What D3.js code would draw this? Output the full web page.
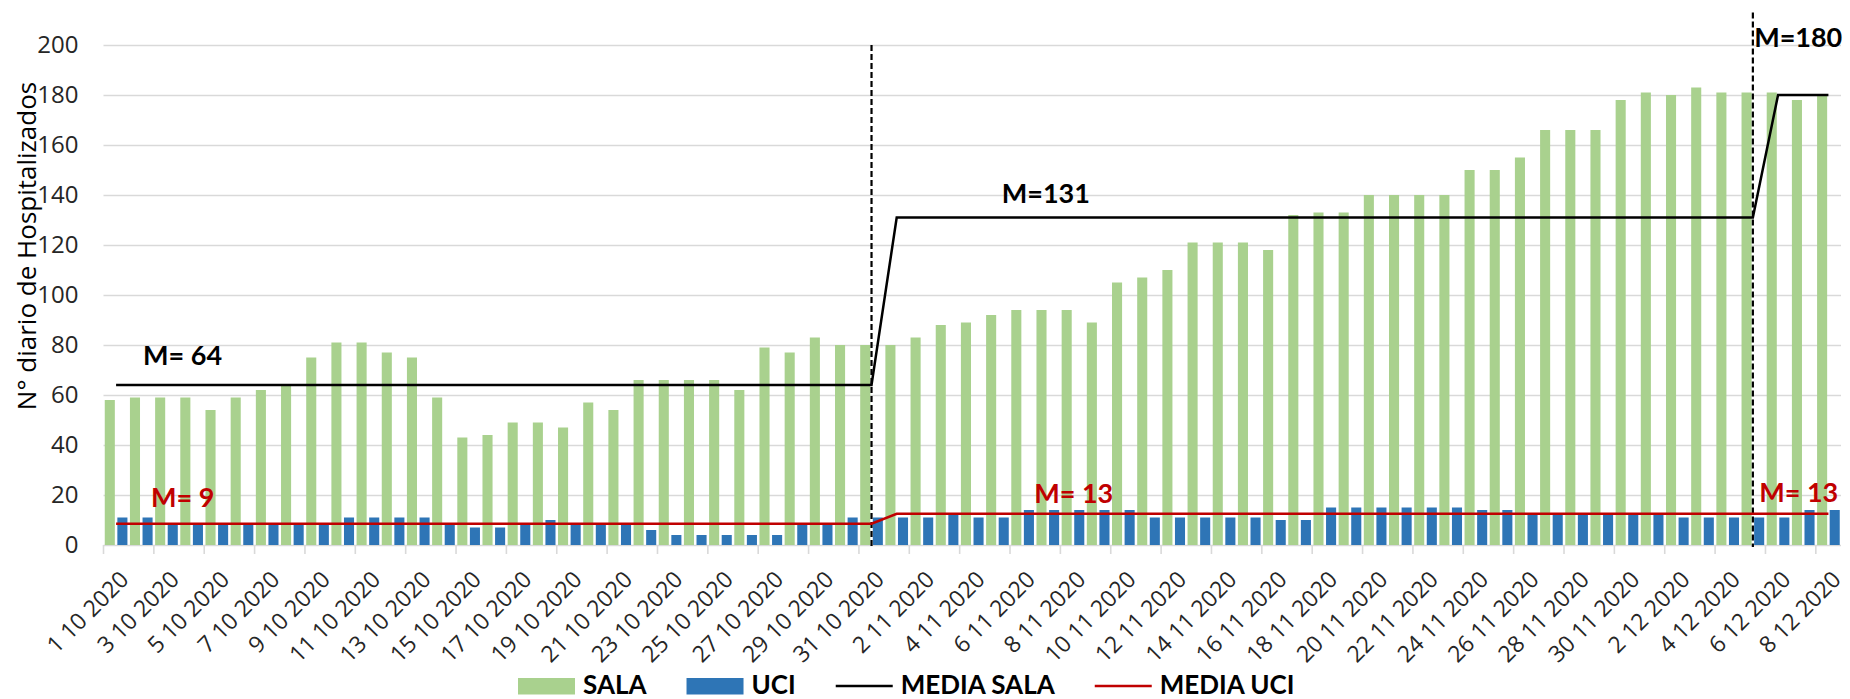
<!DOCTYPE html>
<html>
<head>
<meta charset="utf-8">
<script src="https://cdn.jsdelivr.net/npm/d3@7"></script>
<style>
  body { margin: 0; background: #fff; }
  text { font-family: 'Open Sans', Lato, sans-serif; }
</style>
</head>
<body>
<div id="chart"></div>
<script>
// categories (one per day)
const categories = [
    '1 10 2020', '2 10 2020', '3 10 2020', '4 10 2020', '5 10 2020', '6 10 2020', '7 10 2020', '8 10 2020',
    '9 10 2020', '10 10 2020', '11 10 2020', '12 10 2020', '13 10 2020', '14 10 2020', '15 10 2020', '16 10 2020',
    '17 10 2020', '18 10 2020', '19 10 2020', '20 10 2020', '21 10 2020', '22 10 2020', '23 10 2020', '24 10 2020',
    '25 10 2020', '26 10 2020', '27 10 2020', '28 10 2020', '29 10 2020', '30 10 2020', '31 10 2020',
    '1 11 2020', '2 11 2020', '3 11 2020', '4 11 2020', '5 11 2020', '6 11 2020', '7 11 2020', '8 11 2020',
    '9 11 2020', '10 11 2020', '11 11 2020', '12 11 2020', '13 11 2020', '14 11 2020', '15 11 2020', '16 11 2020',
    '17 11 2020', '18 11 2020', '19 11 2020', '20 11 2020', '21 11 2020', '22 11 2020', '23 11 2020', '24 11 2020',
    '25 11 2020', '26 11 2020', '27 11 2020', '28 11 2020', '29 11 2020', '30 11 2020',
    '1 12 2020', '2 12 2020', '3 12 2020', '4 12 2020', '5 12 2020', '6 12 2020', '7 12 2020', '8 12 2020'
];

const sala = [
    58, 59, 59, 59, 54, 59, 62, 64, 75, 81, 81, 77, 75, 59, 43, 44,
    49, 49, 47, 57, 54, 66, 66, 66, 66, 62, 79, 77, 83, 80, 80,
    80, 83, 88, 89, 92, 94, 94, 94, 89, 105, 107, 110, 121, 121, 121,
    118, 132, 133, 133, 140, 140, 140, 140, 150, 150, 155, 166, 166, 166, 178,
    181, 180, 183, 181, 181, 181, 178, 180
];

const uci = [
    11, 11, 8, 8, 8, 8, 8, 8, 8, 11, 11, 11, 11, 8, 7, 7,
    8, 10, 8, 8, 8, 6, 4, 4, 4, 4, 4, 8, 8, 11, 11,
    11, 11, 12, 11, 11, 14, 14, 14, 14, 14, 11, 11, 11, 11, 11,
    10, 10, 15, 15, 15, 15, 15, 15, 14, 14, 12, 12, 12, 12, 12,
    12, 11, 11, 11, 11, 11, 14, 14
];

// period means: first and last day of each period
const mediaSala = [
    { start: '1 10 2020', end: '31 10 2020', value: 64 },
    { start: '1 11 2020', end: '5 12 2020', value: 131 },
    { start: '6 12 2020', end: '8 12 2020', value: 180 }
];
const mediaUci = [
    { start: '1 10 2020', end: '31 10 2020', value: 8.5 },
    { start: '1 11 2020', end: '8 12 2020', value: 12.5 }
];

const dividers = ['31 10 2020', '5 12 2020'];
const dividerTops = [200, 213];

const yTicks = [0, 20, 40, 60, 80, 100, 120, 140, 160, 180, 200];

// labels: position in category-index units and value units (baseline start)
const notes = [
    { text: 'M= 64', at: 1.57, value: 72, color: '#000' },
    { text: 'M=131', at: 35.67, value: 137, color: '#000' },
    { text: 'M=180', at: 65.55, value: 199.2, color: '#000' },
    { text: 'M= 9', at: 1.89, value: 15.2, color: '#c00000' },
    { text: 'M= 13', at: 36.96, value: 16.8, color: '#c00000' },
    { text: 'M= 13', at: 65.75, value: 17.2, color: '#c00000' }
];

const legendItems = ['SALA', 'UCI', 'MEDIA SALA', 'MEDIA UCI'];
const legendKinds = ['rect', 'rect', 'line', 'line'];

const colors = { SALA: '#a9d18e', UCI: '#2e75b6', 'MEDIA SALA': '#000', 'MEDIA UCI': '#c00000' };

const W = 1850, H = 699;
const plotLeft = 103.5, plotRight = 1841, plotTop = 45, plotBottom = 545;

const svg = d3.select('#chart')
    .append('svg')
    .attr('width', W)
    .attr('height', H);

svg.append('rect').attr('width', W).attr('height', H).attr('fill', '#fff');

const x = d3.scaleBand()
    .domain(categories)
    .range([plotLeft, plotRight])
    .padding(0);

const xi = d3.scaleLinear()
    .domain([0, categories.length])
    .range([plotLeft, plotRight]);

const xs = d3.scaleBand()
    .domain(['SALA', 'UCI'])
    .range([0, x.bandwidth()])
    .paddingInner(0.2)
    .paddingOuter(0.1);

const y = d3.scaleLinear()
    .domain([0, 200])
    .range([plotBottom, plotTop]);

const cx = c => x(c) + x.bandwidth() / 2;

// grid + y labels
const yAxisG = svg.append('g')
    .attr('transform', 'translate(' + plotLeft + ',0)')
    .call(d3.axisLeft(y).tickValues(yTicks).tickSize(-(plotRight - plotLeft)).tickPadding(25));

yAxisG.select('.domain').remove();
yAxisG.selectAll('.tick line')
    .attr('stroke', '#d9d9d9')
    .attr('stroke-width', 1.6);
yAxisG.selectAll('.tick text')
    .attr('fill', '#262626')
    .style('font-size', '24px')
    .style('font-family', 'Open Sans');

// x tick marks every second day
const evenCats = categories.filter((d, i) => i % 2 === 0);

svg.append('g')
    .selectAll('line')
    .data(evenCats)
    .enter()
    .append('line')
    .attr('x1', d => x(d))
    .attr('x2', d => x(d))
    .attr('y1', plotBottom)
    .attr('y2', plotBottom + 9)
    .attr('stroke', '#d9d9d9')
    .attr('stroke-width', 1.6);

svg.append('g')
    .selectAll('text')
    .data(evenCats)
    .enter()
    .append('text')
    .attr('x', d => cx(d) + 14)
    .attr('y', plotBottom + 36)
    .attr('transform', d => 'rotate(-45,' + (cx(d) + 14) + ',' + (plotBottom + 36) + ')')
    .attr('text-anchor', 'end')
    .attr('fill', '#262626')
    .style('font-size', '23px')
    .text(d => d);

// y axis title
svg.append('text')
    .attr('transform', 'translate(35.5,246) rotate(-90)')
    .attr('text-anchor', 'middle')
    .attr('fill', '#000')
    .style('font-size', '26px')
    .text('N° diario de Hospitalizados');

// bars
const bars = svg.append('g');

bars.selectAll('rect.sala')
    .data(sala)
    .enter()
    .append('rect')
    .attr('class', 'sala')
    .attr('x', (d, i) => x(categories[i]) + xs('SALA'))
    .attr('width', xs.bandwidth())
    .attr('y', d => y(d))
    .attr('height', d => y(0) - y(d))
    .attr('fill', colors.SALA);

bars.selectAll('rect.uci')
    .data(uci)
    .enter()
    .append('rect')
    .attr('class', 'uci')
    .attr('x', (d, i) => x(categories[i]) + xs('UCI'))
    .attr('width', xs.bandwidth())
    .attr('y', d => y(d))
    .attr('height', d => y(0) - y(d))
    .attr('fill', colors.UCI);

// dashed dividers
svg.append('g')
    .selectAll('line')
    .data(dividers)
    .enter()
    .append('line')
    .attr('x1', d => cx(d))
    .attr('x2', d => cx(d))
    .attr('y1', (d, i) => y(dividerTops[i]))
    .attr('y2', y(0) + 2)
    .attr('stroke', '#000')
    .attr('stroke-width', 2.2)
    .attr('stroke-dasharray', '6,3');

// mean lines
const toPoints = segs => {
    let pts = [];
    segs.forEach(s => {
        pts.push([cx(s.start), y(s.value)]);
        pts.push([cx(s.end), y(s.value)]);
    });
    return pts;
};

svg.append('path')
    .attr('d', d3.line()(toPoints(mediaUci)))
    .attr('fill', 'none')
    .attr('stroke', colors['MEDIA UCI'])
    .attr('stroke-width', 2.5);

svg.append('path')
    .attr('d', d3.line()(toPoints(mediaSala)))
    .attr('fill', 'none')
    .attr('stroke', colors['MEDIA SALA'])
    .attr('stroke-width', 2.5);

// labels
svg.append('g')
    .selectAll('text')
    .data(notes)
    .enter()
    .append('text')
    .attr('x', d => xi(d.at))
    .attr('y', d => y(d.value))
    .attr('fill', d => d.color)
    .style('font-family', 'Lato')
    .style('font-size', '27px')
    .style('font-weight', 'bold')
    .text(d => d.text);

// legend
const legend = svg.append('g');
let lx = 518;
legendItems.forEach((name, i) => {
    if (legendKinds[i] === 'rect') {
        legend.append('rect')
            .attr('x', lx)
            .attr('y', 678)
            .attr('width', 57)
            .attr('height', 16.5)
            .attr('fill', colors[name]);
    } else {
        legend.append('line')
            .attr('x1', lx)
            .attr('x2', lx + 57)
            .attr('y1', 686)
            .attr('y2', 686)
            .attr('stroke', colors[name])
            .attr('stroke-width', 2.5);
    }
    const t = legend.append('text')
        .attr('x', lx + 65)
        .attr('y', 694)
        .attr('fill', '#000')
        .style('font-family', 'Lato')
        .style('font-size', '26px')
        .style('font-weight', 'bold')
        .text(name);
    lx += 65 + t.node().getComputedTextLength() + 40;
});
</script>
</body>
</html>
